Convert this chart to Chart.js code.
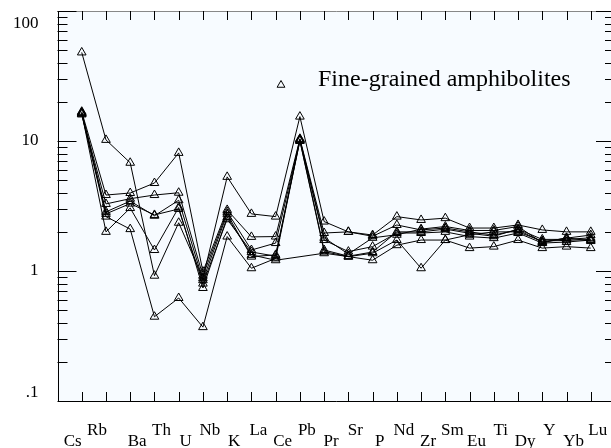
<!DOCTYPE html>
<html lang="en">
<head>
<meta charset="UTF-8">
<title>Fine-grained amphibolites - spider diagram</title>
<script src="https://cdn.jsdelivr.net/npm/chart.js"></script>
<style>
  html, body { margin: 0; padding: 0; background: #fff; overflow: hidden; }
  #wrap { width: 611px; height: 448px; overflow: hidden; }
  #wrap canvas { display: block; }
</style>
</head>
<body>
<div id="wrap"><canvas id="spider" width="630" height="448"></canvas></div>
<script>
// elements along the x axis
const elements = ['Cs', 'Rb', 'Ba', 'Th', 'U', 'Nb', 'K', 'La', 'Ce', 'Pb', 'Pr',
                  'Sr', 'P', 'Nd', 'Zr', 'Sm', 'Eu', 'Ti', 'Dy', 'Y', 'Yb', 'Lu'];

// y axis decades and their labels
const yTicks = [100, 10, 1, 0.1];
const yTickLabels = ['100', '10', '1', '.1'];

// normalised concentrations, one array per sample (null = not analysed)
const sampleA = [48, 10.2, 6.8, 0.92, 2.35, 0.88, 5.3, 2.75, 2.62, 15.4, 2.4, 2.0, 1.89, 2.62, 2.47, 2.55, 2.14, 2.14, 2.26, 2.07, 2.0, 2.0];
const sampleB = [16.4, 2.0, 3.05, 1.45, 3.08, 0.74, 2.6, 1.33, 1.21, null, 1.37, 1.29, 1.21, 1.58, 1.73, 1.73, 1.5, 1.54, 1.73, 1.5, 1.54, 1.5];
const sampleC = [16.8, 3.84, 3.98, 4.75, 8.1, 0.99, 2.95, 1.83, 1.84, 10.4, 1.96, 2.0, 1.85, 2.26, 2.07, 2.14, 2.0, 1.89, 2.07, 1.67, 1.79, 1.89];
const sampleD = [16.2, 3.28, 3.6, 3.84, 4.0, 0.92, 2.85, 1.45, 1.64, 10.2, 1.73, 1.41, 1.54, 1.96, 1.96, 2.0, 1.84, 1.79, 1.96, 1.64, 1.67, 1.73];
const sampleE = [16.6, 2.85, 3.45, 2.66, 3.5, 0.85, 2.75, 1.29, 1.33, 10.0, 1.41, 1.29, 1.37, 1.73, 1.05, 1.73, 1.9, 2.0, 2.0, 1.7, 1.72, 1.75];
const sampleF = [16.3, 2.62, 2.1, 0.445, 0.62, 0.37, 1.84, 1.05, 1.25, 10.1, 1.45, 1.3, 1.4, 2.0, 2.0, 2.1, 1.95, 1.85, 2.1, 1.75, 1.75, 1.8];
const sampleG = [16.0, 2.75, 3.3, 2.7, 3.0, 0.8, 2.5, 1.4, 1.3, 10.3, 1.8, 1.35, 1.8, 1.9, 2.1, 2.2, 2.05, 2.05, 2.2, 1.65, 1.8, 1.7];

const samples = [sampleA, sampleB, sampleC, sampleD, sampleE, sampleF, sampleG];
const legendLabel = 'Fine-grained amphibolites';

const serif = '"Liberation Serif", "DejaVu Serif", serif';

function toPoints(values) {
  return values.map((v, i) => ({ x: i, y: v }));
}

function triangle(ctx, x, y, r) {
  ctx.beginPath();
  ctx.moveTo(x, y - r);
  ctx.lineTo(x + r * 0.866, y + r * 0.5);
  ctx.lineTo(x - r * 0.866, y + r * 0.5);
  ctx.closePath();
  ctx.stroke();
}

const framePlugin = {
  id: 'frame',
  beforeDatasetsDraw(chart) {
    const { ctx, chartArea: a } = chart;
    ctx.save();
    ctx.fillStyle = '#f7fbff';
    ctx.fillRect(a.left, a.top, a.right - a.left, a.bottom - a.top);
    ctx.restore();
  },
  afterDraw(chart) {
    const { ctx, chartArea: a } = chart;
    const xs = chart.scales.x, ys = chart.scales.y;
    ctx.save();
    ctx.lineWidth = 1;
    // frame: top edge is lighter in the original
    ctx.strokeStyle = '#888';
    ctx.beginPath();
    ctx.moveTo(a.left, Math.round(a.top) + 0.5);
    ctx.lineTo(a.right, Math.round(a.top) + 0.5);
    ctx.stroke();
    ctx.strokeStyle = '#000';
    ctx.beginPath();
    ctx.moveTo(Math.round(a.left) + 0.5, a.top);
    ctx.lineTo(Math.round(a.left) + 0.5, Math.round(a.bottom) + 0.5);
    ctx.lineTo(a.right, Math.round(a.bottom) + 0.5);
    ctx.moveTo(Math.round(a.right) + 0.5, a.top);
    ctx.lineTo(Math.round(a.right) + 0.5, a.bottom);
    ctx.stroke();

    // log ticks, inward on both sides
    ctx.beginPath();
    [0.1, 1, 10].forEach(d => {
      for (let k = 1; k <= 9; k++) {
        const y = Math.round(ys.getPixelForValue(d * k)) + 0.5;
        const len = k === 1 ? 19 : 10;
        ctx.moveTo(a.left, y); ctx.lineTo(a.left + len, y);
        ctx.moveTo(a.right, y); ctx.lineTo(a.right - len, y);
      }
    });
    const yTop = Math.round(ys.getPixelForValue(100)) + 0.5;
    ctx.moveTo(a.left, yTop); ctx.lineTo(a.left + 19, yTop);
    ctx.moveTo(a.right, yTop); ctx.lineTo(a.right - 19, yTop);

    // element ticks top and bottom
    elements.forEach((el, i) => {
      const x = Math.round(xs.getPixelForValue(i)) + 0.5;
      ctx.moveTo(x, a.top); ctx.lineTo(x, a.top + 9);
      ctx.moveTo(x, a.bottom); ctx.lineTo(x, a.bottom - 9);
    });
    ctx.stroke();

    // y labels
    ctx.fillStyle = '#000';
    ctx.font = '17px ' + serif;
    ctx.textAlign = 'right';
    ctx.textBaseline = 'middle';
    yTicks.forEach((v, i) => {
      let y = ys.getPixelForValue(v);
      y = Math.min(Math.max(y, a.top + 13), a.bottom - 8);
      ctx.fillText(yTickLabels[i], a.left - 19, y);
    });

    // staggered element labels (first two sit left of their tick)
    ctx.textAlign = 'center';
    ctx.textBaseline = 'alphabetic';
    elements.forEach((el, i) => {
      const x = xs.getPixelForValue(i) + (i < 2 ? -9 : 7);
      const y = i % 2 === 0 ? a.bottom + 45 : a.bottom + 34;
      ctx.fillText(el, x, y);
    });

    // legend
    triangle(ctx, 281, 85, 4.5);
    ctx.font = '24px ' + serif;
    ctx.textAlign = 'left';
    ctx.fillText(legendLabel, 318, 86);
    ctx.restore();
  }
};

new Chart(document.getElementById('spider'), {
  type: 'line',
  data: {
    datasets: samples.map(s => ({
      data: toPoints(s),
      borderColor: '#000',
      borderWidth: 1,
      backgroundColor: 'rgba(0,0,0,0)',
      pointStyle: 'triangle',
      pointRadius: 5,
      pointBorderWidth: 1,
      pointBorderColor: '#000',
      pointBackgroundColor: 'rgba(0,0,0,0)',
      spanGaps: true,
      tension: 0
    }))
  },
  options: {
    responsive: false,
    animation: false,
    layout: { padding: { left: 57.5, right: 15, top: 11, bottom: 47 } },
    scales: {
      x: { type: 'linear', min: -1, max: 22, display: false },
      y: { type: 'logarithmic', min: 0.1, max: 100, display: false }
    },
    plugins: { legend: { display: false }, tooltip: { enabled: false } }
  },
  plugins: [framePlugin]
});
</script>
</body>
</html>
